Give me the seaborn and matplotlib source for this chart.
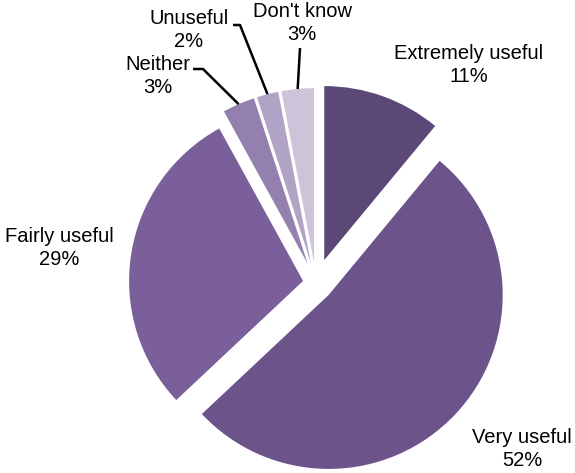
import numpy as np
import matplotlib
matplotlib.use("Agg")
import matplotlib.pyplot as plt
import seaborn as sns

categories = ["Extremely useful", "Very useful", "Fairly useful", "Neither", "Unuseful", "Don't know"]
values = [11, 52, 29, 3, 2, 3]
pct_labels = ["11%", "52%", "29%", "3%", "2%", "3%"]
colors = ["#5c4876", "#6c538a", "#7b5f9a", "#9480ae", "#b1a3c5", "#cdc4da"]
explode = [0.14, 0.10, 0.075, 0.12, 0.12, 0.12]

sns.set_theme(style="white")
plt.rcParams['font.family'] = ['Liberation Sans', 'DejaVu Sans']

W, H = 575, 473
fig = plt.figure(figsize=(W / 100, H / 100), dpi=100)
ax = fig.add_axes([0, 0, 1, 1])

# pixel geometry of the pie
cx, cy, R = 316, 283, 174

wedges, _ = ax.pie(values, colors=colors, explode=explode, startangle=90,
                   counterclock=False, radius=1, center=(0, 0),
                   wedgeprops=dict(linewidth=0))

ax.set_xlim(-cx / R, (W - cx) / R)
ax.set_ylim(-(H - cy) / R, cy / R)
ax.set_aspect('auto')
ax.axis('off')

def px(x, y):
    return (x - cx) / R, (cy - y) / R

# label positions (pixels, layout)
label_pos = [(469, 65), (522, 449), (59, 248), (158, 76), (189, 30), (302, 23)]
for cat, pct, (lx, ly) in zip(categories, pct_labels, label_pos):
    x, y = px(lx, ly)
    ax.text(x, y, f"{cat}\n{pct}", ha='center', va='center', fontsize=14.5,
            linespacing=1.25, color='black')

# leader lines for small slices
total = sum(values)
cum = np.cumsum([0] + values)
leader_starts = {3: [(193, 69), (203, 69)], 4: [(233, 25), (240, 25)], 5: [(300, 48)]}
for i, pts in leader_starts.items():
    mid = (cum[i] + values[i] / 2) / total * 360
    th = np.deg2rad(90 - mid)
    ex, ey = (1 + explode[i]) * np.cos(th), (1 + explode[i]) * np.sin(th)
    xs = [px(*p)[0] for p in pts] + [ex]
    ys = [px(*p)[1] for p in pts] + [ey]
    ax.plot(xs, ys, color='black', lw=1.8, solid_capstyle='butt')

fig.savefig("out.png", dpi=100)
